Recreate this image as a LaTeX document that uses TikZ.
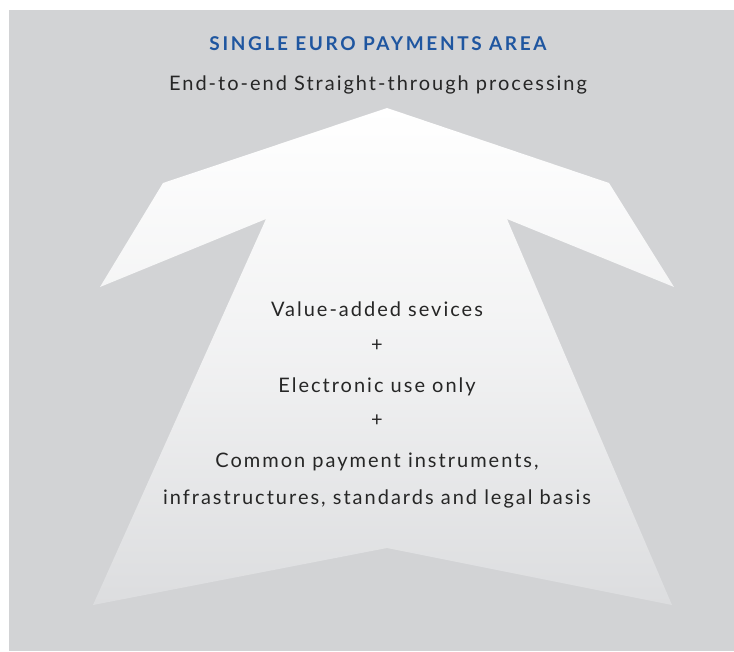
\documentclass[tikz,border=0pt]{standalone}
\usepackage{fontspec}
\setmainfont{Lato}[LetterSpace=10]
\newfontfamily\headfont{Lato}[LetterSpace=14]
\definecolor{bggray}{HTML}{D2D3D5}
\definecolor{arrowlow}{HTML}{DCDDDF}
\definecolor{sepablue}{HTML}{1F56A0}
\tikzset{
	label text/.style = {font=\fontsize{20}{22}\selectfont, text=black!85, anchor=base},
	head text/.style = {font=\headfont\bfseries\fontsize{19}{21}\selectfont, text=sepablue, anchor=base}
}
\begin{document}
\begin{tikzpicture} [x=1pt, y=-1pt]
		\useasboundingbox (0,0) rectangle (734,651);
		\fill [bggray] (9,10) rectangle (734,651);
		% the arrow
		\shade [top color=white, bottom color=arrowlow, middle color=white!60!arrowlow]
			(387,108) -- (609,183) -- (674,287) -- (507,219) -- (672,605) -- (387,548)
			-- (93,605) -- (266,219) -- (100,287) -- (163,183) -- cycle;
		\node [head text] (area) at (378,50) {SINGLE EURO PAYMENTS AREA};
		\node [label text] (stp) at (378,90) {End-to-end Straight-through processing};
		\node [label text] (vas) at (377,316) {Value-added sevices};
		\node [label text] (plusa) at (377,351) {+};
		\node [label text] (elec) at (377,392) {Electronic use only};
		\node [label text] (plusb) at (377,426) {+};
		\node [label text] (common) at (377,467) {Common payment instruments,};
		\node [label text] (infra) at (377,504) {infrastructures, standards and legal basis};
	\end{tikzpicture}
\end{document}
